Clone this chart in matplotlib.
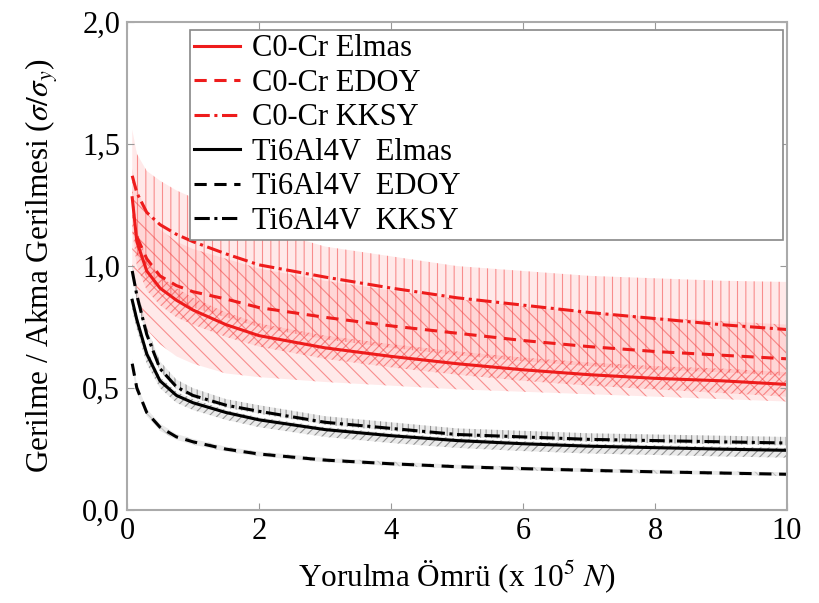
import matplotlib
matplotlib.use("Agg")
import matplotlib.pyplot as plt

plt.rcParams['font.family'] = ['Liberation Serif', 'DejaVu Serif']
plt.rcParams['mathtext.fontset'] = 'stix'
plt.rcParams['hatch.linewidth'] = 0.8

# ortak x ekseni (x 10^5 N)
xs = [0.08, 0.15, 0.3, 0.5, 0.75, 1, 1.5, 2, 3, 4, 5, 6, 7, 8, 9, 10]

# Co-Cr egrileri
cocr_elmas = [1.28, 1.10, 0.98, 0.91, 0.86, 0.82, 0.76, 0.715, 0.665, 0.63, 0.60, 0.575, 0.555, 0.54, 0.53, 0.515]
cocr_edoy = [1.18, 1.12, 1.03, 0.96, 0.92, 0.895, 0.865, 0.83, 0.79, 0.755, 0.725, 0.695, 0.67, 0.65, 0.635, 0.62]
cocr_kksy = [1.37, 1.30, 1.22, 1.17, 1.13, 1.10, 1.05, 1.005, 0.955, 0.91, 0.87, 0.84, 0.81, 0.785, 0.76, 0.74]

# Co-Cr bantlari (alt / ust)
cocr_elmas_lo = [1.15, 1.00, 0.90, 0.84, 0.79, 0.76, 0.71, 0.67, 0.62, 0.585, 0.555, 0.53, 0.51, 0.495, 0.48, 0.465]
cocr_elmas_hi = [1.33, 1.15, 1.03, 0.96, 0.91, 0.87, 0.81, 0.765, 0.715, 0.68, 0.65, 0.625, 0.605, 0.59, 0.58, 0.565]
cocr_edoy_lo = [1.00, 0.85, 0.74, 0.68, 0.63, 0.60, 0.56, 0.545, 0.525, 0.51, 0.495, 0.485, 0.475, 0.465, 0.455, 0.445]
cocr_edoy_hi = [1.40, 1.32, 1.22, 1.15, 1.10, 1.07, 1.03, 0.99, 0.94, 0.90, 0.865, 0.835, 0.81, 0.79, 0.775, 0.76]
cocr_kksy_lo = [1.20, 1.05, 0.95, 0.90, 0.86, 0.83, 0.79, 0.75, 0.70, 0.665, 0.635, 0.61, 0.59, 0.575, 0.565, 0.55]
cocr_kksy_hi = [1.56, 1.46, 1.39, 1.35, 1.31, 1.28, 1.22, 1.16, 1.08, 1.04, 1.00, 0.98, 0.96, 0.95, 0.94, 0.935]

# Ti6Al4V egrileri
ti_elmas = [0.86, 0.78, 0.64, 0.53, 0.47, 0.44, 0.40, 0.37, 0.33, 0.305, 0.285, 0.272, 0.262, 0.256, 0.25, 0.245]
ti_edoy = [0.60, 0.50, 0.40, 0.34, 0.30, 0.28, 0.25, 0.23, 0.205, 0.19, 0.178, 0.17, 0.163, 0.157, 0.152, 0.147]
ti_kksy = [0.98, 0.88, 0.72, 0.58, 0.505, 0.47, 0.43, 0.405, 0.36, 0.335, 0.31, 0.30, 0.29, 0.285, 0.28, 0.275]

# Ti6Al4V bantlari
ti_elmas_lo = [0.82, 0.74, 0.60, 0.50, 0.44, 0.41, 0.37, 0.34, 0.30, 0.275, 0.255, 0.242, 0.232, 0.226, 0.22, 0.215]
ti_elmas_hi = [0.88, 0.80, 0.66, 0.545, 0.485, 0.455, 0.41, 0.38, 0.34, 0.315, 0.295, 0.282, 0.272, 0.266, 0.26, 0.255]
ti_kksy_lo = [0.96, 0.86, 0.71, 0.57, 0.495, 0.46, 0.42, 0.395, 0.35, 0.325, 0.30, 0.29, 0.28, 0.275, 0.27, 0.265]
ti_kksy_hi = [1.01, 0.91, 0.75, 0.61, 0.535, 0.50, 0.455, 0.43, 0.385, 0.36, 0.335, 0.325, 0.315, 0.31, 0.305, 0.30]
ti_edoy_lo = [0.58, 0.48, 0.385, 0.325, 0.288, 0.268, 0.24, 0.22, 0.196, 0.181, 0.17, 0.162, 0.155, 0.149, 0.144, 0.139]
ti_edoy_hi = [0.62, 0.52, 0.415, 0.355, 0.312, 0.292, 0.26, 0.24, 0.214, 0.199, 0.186, 0.178, 0.171, 0.165, 0.16, 0.155]

yticks = [0.0, 0.5, 1.0, 1.5, 2.0]
ytick_labels = ['0,0', '0,5', '1,0', '1,5', '2,0']
xticks = [0, 2, 4, 6, 8, 10]

red = '#ee1c1c'
pink = (1.0, 0.35, 0.35, 0.13)
red_hatch = (0.95, 0.2, 0.2, 0.5)
grey = (0.5, 0.5, 0.5, 0.16)
grey_hatch = (0.35, 0.35, 0.35, 0.6)

fig = plt.figure(figsize=(8.19, 6.03), dpi=100)
ax = fig.add_axes([0.155, 0.154, 0.806, 0.8095])

# bantlar
ax.fill_between(xs, cocr_kksy_lo, cocr_kksy_hi, facecolor=pink, edgecolor=red_hatch, hatch='||', linewidth=0)
ax.fill_between(xs, cocr_edoy_lo, cocr_edoy_hi, facecolor=pink, edgecolor=red_hatch, hatch='\\\\', linewidth=0)
ax.fill_between(xs, cocr_elmas_lo, cocr_elmas_hi, facecolor=pink, edgecolor=red_hatch, hatch='////', linewidth=0)
ax.fill_between(xs, ti_edoy_lo, ti_edoy_hi, facecolor=grey, edgecolor=(0.4, 0.4, 0.4, 0.3), hatch='\\\\', linewidth=0)
ax.fill_between(xs, ti_elmas_lo, ti_elmas_hi, facecolor=grey, edgecolor=grey_hatch, hatch='////', linewidth=0)
ax.fill_between(xs, ti_kksy_lo, ti_kksy_hi, facecolor=grey, edgecolor=grey_hatch, hatch='|||', linewidth=0)

# egriler
ax.plot(xs, cocr_elmas, color=red, lw=2.2, ls='-', label='C0-Cr Elmas')
ax.plot(xs[1:], cocr_edoy[1:], color=red, lw=2.2, ls=(0, (4, 2.5)), label='C0-Cr EDOY')
ax.plot(xs, cocr_kksy, color=red, lw=2.2, ls=(0, (5, 1.5, 1, 1.5)), label='C0-Cr KKSY')
ax.plot(xs, ti_elmas, color='black', lw=2.2, ls='-', label='Ti6Al4V  Elmas')
ax.plot(xs, ti_edoy, color='black', lw=2.2, ls=(0, (4, 2.5)), label='Ti6Al4V  EDOY')
ax.plot(xs, ti_kksy, color='black', lw=2.2, ls=(0, (5, 1.5, 1, 1.5)), label='Ti6Al4V  KKSY')

ax.set_xlim(0, 10)
ax.set_ylim(0, 2.0)
ax.set_xticks(xticks)
ax.set_xticklabels([str(t) for t in xticks])
ax.set_yticks(yticks)
ax.set_yticklabels(ytick_labels)
ax.tick_params(direction='in', length=5, color='#999999', labelsize=22,
               top=True, right=True, pad=5)
for s in ax.spines.values():
    s.set_color('#aaaaaa')
    s.set_linewidth(1.5)

ax.set_xlabel('Yorulma Ömrü (x 10$^5$ $N$)', fontsize=22.5, labelpad=9)
ax.set_ylabel('Gerilme / Akma Gerilmesi ($\\sigma/\\sigma_y$)', fontsize=22.5, labelpad=15)

leg = ax.legend(loc='upper left', bbox_to_anchor=(0.095, 0.557, 0.899, 0.427), mode='expand',
                fontsize=22, frameon=True, fancybox=False, framealpha=1, edgecolor='#888888',
                handlelength=1.5, handletextpad=0.4, labelspacing=0.18, borderpad=0.15,
                borderaxespad=0)
leg.get_frame().set_linewidth(1.2)

plt.savefig('out.png', dpi=100)
